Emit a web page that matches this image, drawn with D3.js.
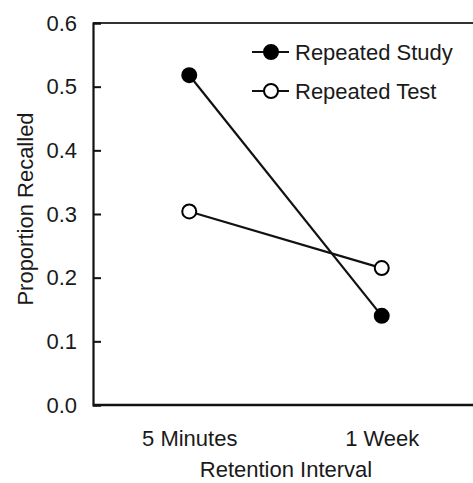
<!DOCTYPE html>
<html><head><meta charset="utf-8">
<script src="https://cdn.jsdelivr.net/npm/d3@7"></script>
<style>
html,body{margin:0;padding:0;background:#fff;}
text{font-family:"Liberation Sans",Arial,sans-serif;fill:#1a1a1a;}
</style></head>
<body>
<svg id="c" width="473" height="483"></svg>
<script>
const categories = ["5 Minutes", "1 Week"];
const repeatedStudy = [0.518, 0.140];
const repeatedTest = [0.304, 0.215];
const yTicks = [0.0, 0.1, 0.2, 0.3, 0.4, 0.5, 0.6];
const seriesNames = ["Repeated Study", "Repeated Test"];

const svg = d3.select("#c");
const mLeft = 93, mTop = 23, mBottom = 405, mRight = 478;
const fs = 22;

const x = d3.scalePoint().domain(categories).range([mLeft, mRight]).padding(0.5);
const y = d3.scaleLinear().domain([0, 0.6]).range([mBottom, mTop]);

// top frame line
svg.append("line").attr("x1", mLeft).attr("x2", 473).attr("y1", y(0.6)).attr("y2", y(0.6))
  .attr("stroke", "#333").attr("stroke-width", 2.2);

// y axis
const yAxis = d3.axisLeft(y).tickValues(yTicks).tickFormat(d3.format(".1f")).tickSize(-8).tickPadding(16);
const gy = svg.append("g").attr("transform", `translate(${mLeft},0)`).call(yAxis);
gy.select(".domain").attr("stroke", "#111").attr("stroke-width", 2.2);
gy.selectAll(".tick line").attr("stroke", "#111").attr("stroke-width", 2);
gy.selectAll(".tick text").style("font-size", fs + "px").attr("fill", "#1a1a1a");

// x axis
const xAxis = d3.axisBottom(x).tickSize(0).tickPadding(25);
const gx = svg.append("g").attr("transform", `translate(0,${mBottom})`).call(xAxis);
gx.select(".domain").attr("d", `M${mLeft},0H473`).attr("stroke", "#111").attr("stroke-width", 2.6);
gx.selectAll(".tick text").style("font-size", fs + "px").attr("fill", "#1a1a1a");

// axis titles
svg.append("text").attr("x", 286).attr("y", 477).attr("text-anchor", "middle")
  .style("font-size", fs + "px").text("Retention Interval");
svg.append("text").attr("transform", `translate(33,209) rotate(-90)`)
  .attr("text-anchor", "middle").style("font-size", fs + "px").text("Proportion Recalled");

const line = d3.line().x((d, i) => x(categories[i])).y(d => y(d));
const series = [
  {name: seriesNames[0], values: repeatedStudy, fill: "#000"},
  {name: seriesNames[1], values: repeatedTest, fill: "#fff"}
];
series.forEach(s => {
  svg.append("path").attr("d", line(s.values)).attr("fill", "none")
    .attr("stroke", "#111").attr("stroke-width", 2.2);
});
series.forEach(s => {
  svg.selectAll(null).data(s.values).enter().append("circle")
    .attr("cx", (d, i) => x(categories[i])).attr("cy", d => y(d)).attr("r", 7)
    .attr("fill", s.fill).attr("stroke", "#000").attr("stroke-width", 2);
});

// legend
const lg = svg.append("g");
series.forEach((s, i) => {
  const ly = 52 + i * 39;
  lg.append("line").attr("x1", 252).attr("x2", 289).attr("y1", ly).attr("y2", ly)
    .attr("stroke", "#111").attr("stroke-width", 2.2);
  lg.append("circle").attr("cx", 271).attr("cy", ly).attr("r", 7)
    .attr("fill", s.fill).attr("stroke", "#000").attr("stroke-width", 2);
  lg.append("text").attr("x", 295).attr("y", ly).attr("dy", "0.35em")
    .style("font-size", fs + "px").text(s.name);
});
</script>
</body></html>
